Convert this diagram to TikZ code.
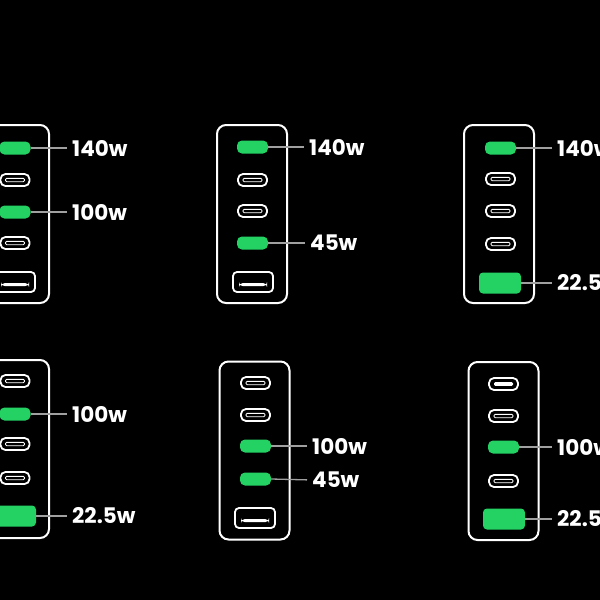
\documentclass[tikz,border=0pt]{standalone}
\usepackage{fontspec}
\setmainfont{Poppins}
\definecolor{pgreen}{RGB}{36,210,100}
\definecolor{lgray}{RGB}{160,160,160}
\tikzset{
  x=1pt, y=-1pt,
  chbox/.style={draw=white, line width=2pt, rounded corners=9pt, minimum width=70pt, minimum height=178pt, inner sep=0pt},
  gport/.style={fill=pgreen, rounded corners=5pt, minimum width=31pt, minimum height=13pt, inner sep=0pt},
  gaport/.style={fill=pgreen, rounded corners=4pt, minimum width=42pt, minimum height=21pt, inner sep=0pt},
  cport/.style={draw=white, line width=1.8pt, rounded corners=5pt, minimum width=29pt, minimum height=12pt, inner sep=0pt,
    path picture={\draw[white, line width=0.9pt, rounded corners=1.2pt]
      ([shift={(-9.5,-1.7)}]path picture bounding box.center) rectangle ([shift={(9.5,1.7)}]path picture bounding box.center);}},
  cfport/.style={draw=white, line width=1.8pt, rounded corners=5pt, minimum width=29pt, minimum height=12pt, inner sep=0pt,
    path picture={\fill[white, rounded corners=1.2pt]
      ([shift={(-9.5,-1.8)}]path picture bounding box.center) rectangle ([shift={(9.5,1.8)}]path picture bounding box.center);}},
  aport/.style={draw=white, line width=1.8pt, rounded corners=4pt, minimum width=40pt, minimum height=20pt, inner sep=0pt,
    path picture={\fill[white]
      ([shift={(-14,1)}]path picture bounding box.center) rectangle ([shift={(14,4.2)}]path picture bounding box.center);}},
  lbl/.style={anchor=west, text=white, font=\bfseries\fontsize{21.5}{21.5}\selectfont, inner sep=0pt},
  conn/.style={draw=lgray, line width=1.3pt, shorten >=5pt},
}
\begin{document}
\begin{tikzpicture}
\useasboundingbox (0,0) rectangle (600,600);
\fill[black] (0,0) rectangle (600,600);

% Panel 1
\node[chbox] (b1) at (14,214) {};
\node[gport] (p1a) at (15,148) {};
\node[cport] (p1b) at (15,180) {};
\node[gport] (p1c) at (15,212) {};
\node[cport] (p1d) at (15,243) {};
\node[aport] (p1e) at (15,282) {};
\node[lbl] (l1a) at (72,148) {140w};
\node[lbl] (l1c) at (72,212) {100w};
\draw[conn] (p1a.east) -- (l1a.west);
\draw[conn] (p1c.east) -- (l1c.west);

% Panel 2
\node[chbox] (b2) at (252,214) {};
\node[gport] (p2a) at (252.5,147) {};
\node[cport] (p2b) at (252.5,180) {};
\node[cport] (p2c) at (252.5,211) {};
\node[gport] (p2d) at (252.5,243) {};
\node[aport] (p2e) at (253,282) {};
\node[lbl] (l2a) at (309,147) {140w};
\node[lbl] (l2d) at (310,243) {45w};
\draw[conn] (p2a.east) -- (l2a.west);
\draw[conn] (p2d.east) -- (l2d.west);

% Panel 3
\node[chbox] (b3) at (499,214) {};
\node[gport] (p3a) at (500.5,148) {};
\node[cport] (p3b) at (500.5,179) {};
\node[cport] (p3c) at (500.5,211) {};
\node[cport] (p3d) at (500.5,244) {};
\node[gaport] (p3e) at (500,283) {};
\node[lbl] (l3a) at (557,148) {140w};
\node[lbl] (l3e) at (557,283) {22.5w};
\draw[conn] (p3a.east) -- (l3a.west);
\draw[conn] (p3e.east) -- (l3e.west);

% Panel 4
\node[chbox] (b4) at (14,449) {};
\node[cport] (p4a) at (15,381) {};
\node[gport] (p4b) at (15,414) {};
\node[cport] (p4c) at (15,444) {};
\node[cport] (p4d) at (15,478) {};
\node[gaport] (p4e) at (15,516) {};
\node[lbl] (l4b) at (72,414) {100w};
\node[lbl] (l4e) at (72,516) {22.5w};
\draw[conn] (p4b.east) -- (l4b.west);
\draw[conn] (p4e.east) -- (l4e.west);

% Panel 5
\node[chbox] (b5) at (254.5,450.5) {};
\node[cport] (p5a) at (255.5,383) {};
\node[cport] (p5b) at (255.5,415) {};
\node[gport] (p5c) at (255.5,446) {};
\node[gport] (p5d) at (255.5,479) {};
\node[aport] (p5e) at (255,518) {};
\node[lbl] (l5c) at (312,446) {100w};
\node[lbl] (l5d) at (312,480) {45w};
\draw[conn] (p5c.east) -- (l5c.west);
\draw[conn] (p5d.east) -- (l5d.west);

% Panel 6
\node[chbox] (b6) at (503.5,451) {};
\node[cfport] (p6a) at (503.5,384) {};
\node[cport] (p6b) at (503.5,416) {};
\node[gport] (p6c) at (503.5,447) {};
\node[cport] (p6d) at (503.5,481) {};
\node[gaport] (p6e) at (504,519) {};
\node[lbl] (l6c) at (557,447) {100w};
\node[lbl] (l6e) at (557,519) {22.5w};
\draw[conn] (p6c.east) -- (l6c.west);
\draw[conn] (p6e.east) -- (l6e.west);
\end{tikzpicture}
\end{document}
